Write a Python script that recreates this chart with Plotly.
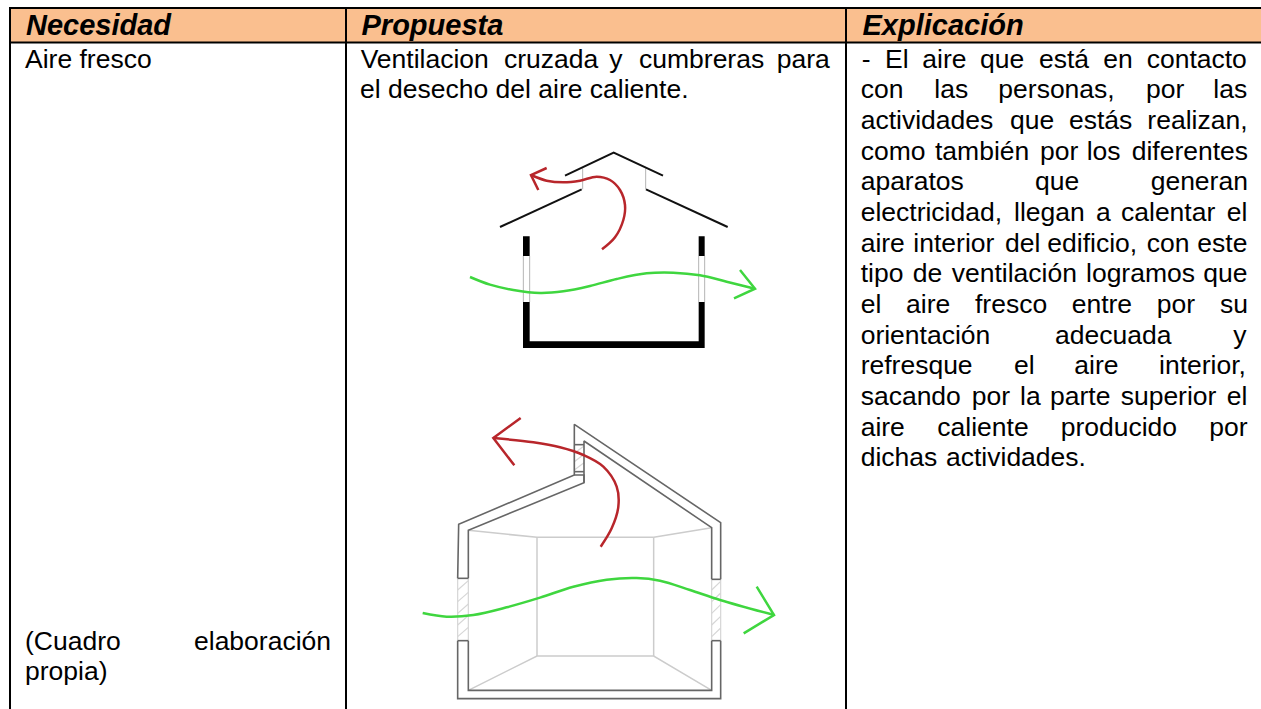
import plotly.graph_objects as go

# ---------- text ----------
HEAD_WORDS = ["Necesidad", "Propuesta", "Explicación"]
HEAD_X = [26, 361.5, 862.5]
HEAD_BASE = 36.7
BODY_SIZE = 26.5
HEAD_SIZE = 29

# each line: baseline, [(word, x in crop px)]  crop origin given per block
RIGHT_BASE0 = 69.0
RIGHT_STEP = 30.67
RIGHT_LINES = [
    [("-", 65), ("El", 135), ("aire", 247), ("que", 420), ("está", 597), ("en", 790), ("contacto", 920)],
    [("con", 62), ("las", 283), ("personas,", 475), ("por", 918), ("las", 1120)],
    [("actividades", 62), ("que", 510), ("estás", 687), ("realizan,", 922)],
    [("como", 62), ("también", 285), ("por", 600), ("los", 740), ("diferentes", 875)],
    [("aparatos", 62), ("que", 585), ("generan", 932)],
    [("electricidad,", 62), ("llegan", 522), ("a", 768), ("calentar", 843), ("el", 1160)],
    [("aire", 62), ("interior", 220), ("del", 495), ("edificio,", 622), ("con", 920), ("este", 1072)],
    [("tipo", 62), ("de", 218), ("ventilación", 335), ("logramos", 738), ("que", 1090)],
    [("el", 62), ("aire", 198), ("fresco", 405), ("entre", 695), ("por", 950), ("su", 1140)],
    [("orientación", 62), ("adecuada", 645), ("y", 1180)],
    [("refresque", 62), ("el", 522), ("aire", 703), ("interior,", 957)],
    [("sacando", 62), ("por", 395), ("la", 540), ("parte", 630), ("superior", 842), ("el", 1160)],
    [("aire", 62), ("caliente", 292), ("producido", 662), ("por", 1108)],
    [("dichas", 62), ("actividades.", 318)],
]
MID_LINES = [
    (69.0, [("Ventilacion", 62), ("cruzada", 492), ("y", 808), ("cumbreras", 897), ("para", 1310)]),
    (99.3, [("el desecho del aire caliente.", 60)]),
]
LEFT_LINES = [
    (69.0, [("Aire fresco", 25)]),
    (651.7, [("(Cuadro", 25), ("elaboración", 194)]),
    (681.7, [("propia)", 25)]),
]

# ---------- table ----------
TABLE_TOP, HEAD_BOTTOM, TABLE_BOTTOM = 8, 42.5, 709
TABLE_LEFT, COL2, COL3, TABLE_RIGHT = 10, 346, 846, 1261

# ---------- house 1 (crop coordinates, origin 440,130, 3x) ----------
H1_ROOF = [[(180, 291), (425, 178)], [(618, 178), (863, 291)], [(375, 137), (521, 68), (669, 137)]]
H1_THIN = [[(428, 115), (428, 178)], [(617, 115), (617, 178)],
           [(250, 378), (250, 516)], [(269, 378), (269, 516)],
           [(776, 378), (776, 516)], [(794, 378), (794, 516)]]
H1_SOLID = [
    [(249, 319), (269, 319), (269, 378), (249, 378)],
    [(776, 319), (794, 319), (794, 378), (776, 378)],
    [(249, 516), (269, 516), (269, 634), (776, 634), (776, 516), (794, 516), (794, 654), (249, 654)],
]
H1_GREEN = [(90, 441), (150, 464), (220, 480), (300, 489), (370, 484), (450, 468), (530, 447),
            (620, 430), (700, 428), (780, 436), (860, 455), (945, 476)]
H1_GREEN_HEAD = [(900, 420), (945, 476), (882, 505)]
H1_RED = [(486, 358), (525, 322), (550, 270), (555, 225), (540, 180), (510, 150), (470, 140),
          (420, 152), (370, 157), (320, 152), (273, 135)]
H1_RED_HEAD = [(320, 114), (273, 135), (295, 180)]

# ---------- house 2 (crop coordinates, origin 400,370, 3x) ----------
H2_DARK = [
    [(173, 625), (176, 463), (523, 315), (523, 163), (962, 458), (962, 628)],
    [(962, 812), (962, 986), (173, 986), (173, 812)],
    [(205, 625), (205, 481), (552, 338), (552, 213), (935, 473), (935, 628)],
    [(935, 812), (935, 961), (205, 961), (205, 812)],
    [(173, 625), (205, 625)], [(173, 812), (205, 812)],
    [(935, 628), (962, 628)], [(935, 812), (962, 812)],
    [(523, 224), (552, 224)], [(523, 305), (552, 305)],
    [(523, 315), (552, 315), (552, 338)],
]
H2_ROOM = [
    [(205, 481), (411, 502), (761, 502), (935, 473)],
    [(411, 502), (411, 858)], [(761, 502), (761, 858)],
    [(205, 961), (411, 858), (761, 858), (935, 961)],
]
H2_HATCH = [
    [(173, 625), (173, 812)], [(205, 625), (205, 812)],
    [(935, 628), (935, 812)], [(962, 628), (962, 812)],
    [(523, 224), (523, 305)],
    [(173, 660), (205, 632)], [(173, 695), (205, 667)], [(173, 730), (205, 702)],
    [(173, 765), (205, 737)], [(173, 800), (205, 772)],
    [(935, 660), (962, 634)], [(935, 695), (962, 669)], [(935, 730), (962, 704)],
    [(935, 765), (962, 739)], [(935, 800), (962, 774)],
    [(523, 250), (552, 228)], [(523, 275), (552, 253)], [(523, 300), (552, 278)],
]
H2_GREEN = [(68, 729), (140, 740), (220, 735), (320, 712), (420, 683), (520, 650), (620, 629),
            (710, 624), (780, 632), (870, 660), (960, 690), (1122, 735)]
H2_GREEN_HEAD = [(1070, 650), (1122, 735), (1031, 790)]
H2_RED = [(602, 530), (635, 475), (655, 410), (650, 350), (610, 290), (550, 255), (480, 232),
          (400, 217), (280, 204)]
H2_RED_HEAD = [(362, 144), (280, 204), (343, 286)]

GREEN, RED = "#3fd63f", "#b8262b"
FONT = "Liberation Sans"


def crop(path, ox, oy):
    return [ox + p[0] / 3 for p in path], [oy + p[1] / 3 for p in path]


def paths(items, ox, oy, close=False):
    xs, ys = [], []
    for path in items:
        x, y = crop(path, ox, oy)
        if close:
            x, y = x + x[:1], y + y[:1]
        xs += x + [None]
        ys += y + [None]
    return xs, ys


fig = go.Figure()


def line(x, y, color, width, shape="linear"):
    fig.add_trace(go.Scatter(x=x, y=y, mode="lines", hoverinfo="skip", showlegend=False,
                             line=dict(color=color, width=width, shape=shape)))


def fill(x, y, color):
    fig.add_trace(go.Scatter(x=x, y=y, mode="lines", fill="toself", fillcolor=color, hoverinfo="skip",
                             showlegend=False, line=dict(color=color, width=0)))


def words(x, y, text, size, weight="normal", style="normal"):
    # middle-anchored text sits with its baseline about 0.3 em under the point
    fig.add_trace(go.Scatter(x=x, y=[v - 0.3 * size for v in y], text=text, mode="text",
                             textposition="middle right", hoverinfo="skip", showlegend=False,
                             textfont=dict(family=FONT, size=size, color="#000000",
                                           weight=weight, style=style)))


# header band and table rules
fill([TABLE_LEFT, TABLE_RIGHT, TABLE_RIGHT, TABLE_LEFT],
     [TABLE_TOP, TABLE_TOP, HEAD_BOTTOM, HEAD_BOTTOM], "#fabf8f")
line([TABLE_LEFT - 1, TABLE_RIGHT, None, TABLE_LEFT - 1, TABLE_RIGHT],
     [TABLE_TOP, TABLE_TOP, None, HEAD_BOTTOM, HEAD_BOTTOM], "#000000", 2)
line([TABLE_LEFT, TABLE_LEFT, None, COL2, COL2, None, COL3, COL3],
     [TABLE_TOP, TABLE_BOTTOM, None, TABLE_TOP, TABLE_BOTTOM, None, TABLE_TOP, TABLE_BOTTOM], "#000000", 2)

# house 1
x, y = paths(H1_SOLID, 440, 130, close=True)
fill(x, y, "#000000")
x, y = paths(H1_THIN, 440, 130)
line(x, y, "#b5b5b5", 1)
x, y = paths(H1_ROOF, 440, 130)
line(x, y, "#111111", 2)
x, y = crop(H1_GREEN, 440, 130)
line(x, y, GREEN, 2.5, "spline")
x, y = crop(H1_GREEN_HEAD, 440, 130)
line(x, y, GREEN, 2.5)
x, y = crop(H1_RED, 440, 130)
line(x, y, RED, 2.5, "spline")
x, y = crop(H1_RED_HEAD, 440, 130)
line(x, y, RED, 2.5)

# house 2
x, y = paths(H2_ROOM, 400, 370)
line(x, y, "#cccccc", 1.5)
x, y = paths(H2_HATCH, 400, 370)
line(x, y, "#d6d6d6", 1.2)
x, y = paths(H2_DARK, 400, 370)
line(x, y, "#666666", 1.6)
x, y = crop(H2_GREEN, 400, 370)
line(x, y, GREEN, 2.5, "spline")
x, y = crop(H2_GREEN_HEAD, 400, 370)
line(x, y, GREEN, 2.5)
x, y = crop(H2_RED, 400, 370)
line(x, y, RED, 2.5, "spline")
x, y = crop(H2_RED_HEAD, 400, 370)
line(x, y, RED, 2.5)

# text
words(HEAD_X, [HEAD_BASE] * 3, HEAD_WORDS, HEAD_SIZE, "bold", "italic")
tx, ty, tt = [], [], []
for base, row in LEFT_LINES:
    for w, px in row:
        tx.append(px); ty.append(base); tt.append(w)
for base, row in MID_LINES:
    for w, px in row:
        tx.append(340 + px / 3); ty.append(base); tt.append(w)
for i, row in enumerate(RIGHT_LINES):
    for w, px in row:
        tx.append(840 + px / 3); ty.append(RIGHT_BASE0 + i * RIGHT_STEP); tt.append(w)
words(tx, ty, tt, BODY_SIZE)

fig.update_layout(
    width=1261, height=709, autosize=False,
    margin=dict(l=0, r=0, t=0, b=0),
    paper_bgcolor="#ffffff", plot_bgcolor="#ffffff",
    xaxis=dict(range=[0, 1261], visible=False, fixedrange=True),
    yaxis=dict(range=[709, 0], visible=False, fixedrange=True),
    showlegend=False,
)
fig.write_html("out.html", config={"displayModeBar": False},
               post_script="document.body.style.margin='0';document.body.style.overflow='hidden';")
